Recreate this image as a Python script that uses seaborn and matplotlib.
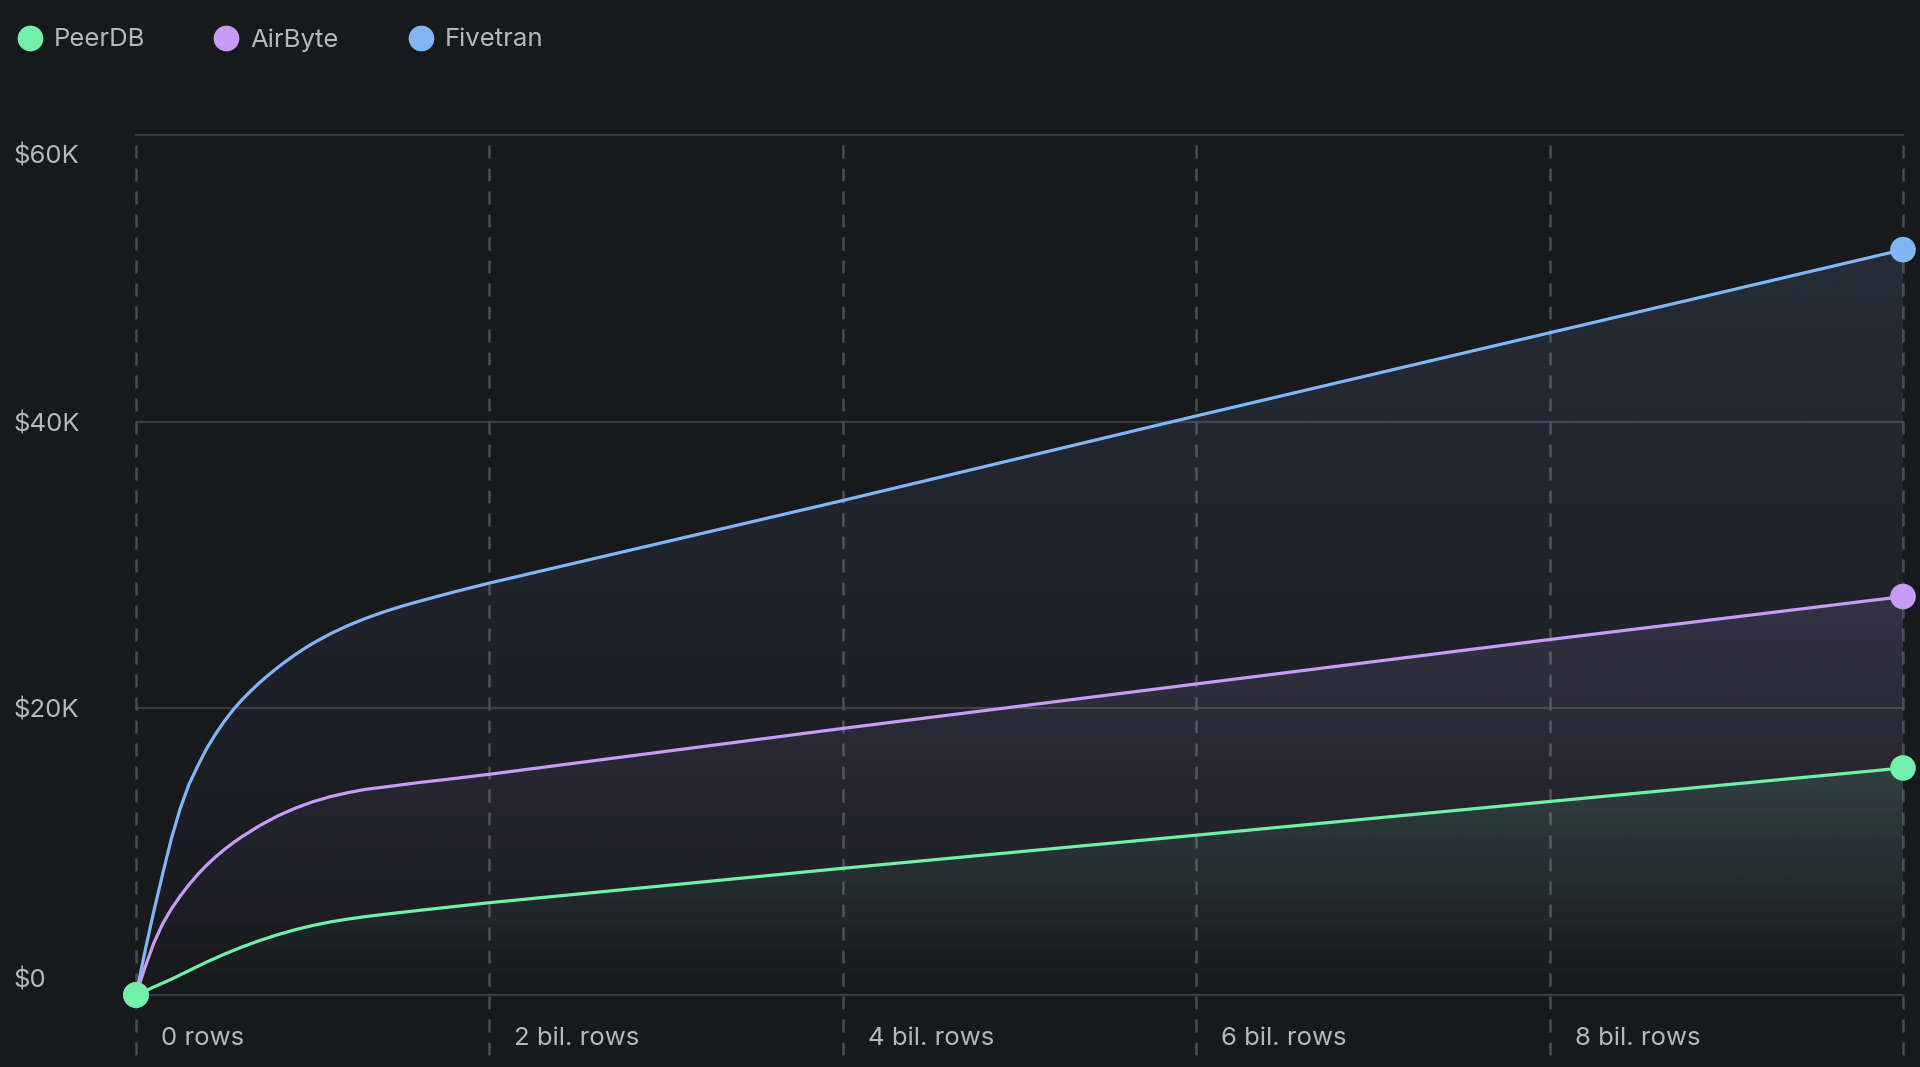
import numpy as np
import pandas as pd
import seaborn as sns
import matplotlib.pyplot as plt
import matplotlib.transforms as mtransforms
from matplotlib.colors import to_rgb
from matplotlib.lines import Line2D

# synced rows (billions) vs. monthly cost (USD)
fivetran_rows = [0, 0.05, 0.10, 0.15, 0.20, 0.25, 0.30, 0.35, 0.40, 0.45, 0.50, 0.55, 0.60,
                 0.65, 0.70, 0.75, 0.80, 0.85, 0.90, 0.95, 1.0, 1.1, 1.2, 1.3, 1.4, 1.5,
                 1.6, 1.8, 2, 4, 6, 8, 10]
fivetran_cost = [0, 3000, 5800, 8400, 10900, 13000, 14700, 16000, 17200, 18200, 19100, 19900,
                 20600, 21220, 21800, 22330, 22830, 23300, 23740, 24150, 24530, 25200, 25780,
                 26280, 26720, 27110, 27460, 28120, 28740, 34500, 40400, 46200, 52000]

airbyte_rows = [0, 0.05, 0.10, 0.15, 0.20, 0.25, 0.30, 0.35, 0.40, 0.45, 0.50, 0.55, 0.60,
                0.70, 0.80, 0.90, 1.0, 1.1, 1.2, 1.3, 1.4, 1.6, 1.8, 2, 4, 6, 8, 10]
airbyte_cost = [0, 1900, 3600, 4950, 6000, 6900, 7700, 8420, 9060, 9630, 10150, 10620, 11050,
                11820, 12480, 13030, 13480, 13840, 14120, 14350, 14500, 14820, 15100, 15400,
                18600, 21700, 24800, 27800]

peerdb_rows = [0, 0.1, 0.2, 0.3, 0.4, 0.5, 0.6, 0.7, 0.8, 0.9, 1.0, 1.1, 1.2, 1.3, 1.4,
               1.6, 1.8, 2, 4, 6, 8, 10]
peerdb_cost = [0, 550, 1100, 1700, 2300, 2850, 3350, 3800, 4200, 4550, 4850, 5100, 5300,
               5470, 5620, 5900, 6170, 6440, 8840, 11150, 13500, 15840]

x_ticks = [0, 2, 4, 6, 8]
x_labels = ['0 rows', '2 bil. rows', '4 bil. rows', '6 bil. rows', '8 bil. rows']
y_ticks = [0, 20000, 40000, 60000]
y_labels = ['$0', '$20K', '$40K', '$60K']

series = [
    ('Fivetran', fivetran_rows, fivetran_cost, '#80b6f6'),
    ('AirByte', airbyte_rows, airbyte_cost, '#c89cf6'),
    ('PeerDB', peerdb_rows, peerdb_cost, '#72f0aa'),
]
legend_order = ['PeerDB', 'AirByte', 'Fivetran']

BG = '#18191c'
TEXT = '#b7b8bc'
GRID = '#3b3c41'
DASH = '#4a4c51'
FS = 18.5

sns.set_style('dark', {'axes.facecolor': BG, 'figure.facecolor': BG})
plt.rcParams['font.family'] = ['Inter', 'DejaVu Sans']

W, H = 1920, 1067
fig = plt.figure(figsize=(W / 100, H / 100), dpi=100)
ax = fig.add_axes([136 / W, 1 - 995 / H, (1903 - 136) / W, (995 - 135) / H])
ax.set_facecolor(BG)


def gradient_fill(ax, x, y, color, alpha_top):
    poly = ax.fill_between(x, y, 0, facecolor='none', edgecolor='none')
    path = poly.get_paths()[0]
    rgba = np.zeros((256, 1, 4))
    rgba[..., :3] = to_rgb(color)
    rgba[..., 3] = np.linspace(alpha_top, 0, 256)[:, None]
    im = ax.imshow(rgba, aspect='auto', origin='upper', zorder=1,
                   extent=[min(x), max(x), 0, max(y)], interpolation='bilinear')
    im.set_clip_path(path, transform=ax.transData)


# grid: solid horizontals, dashed verticals running below the axis
for v in y_ticks:
    ax.axhline(v, color=GRID, lw=1.6, zorder=0.5, clip_on=False)
for v in x_ticks + [10]:
    ax.axvline(v, ymin=-0.07, ymax=1, color=DASH, lw=1.8, ls=(0, (5.2, 4.0)),
               zorder=0.6, clip_on=False)

for name, rows, cost, color in series:
    gradient_fill(ax, rows, cost, color, 0.13)

for name, rows, cost, color in series:
    sns.lineplot(x=rows, y=cost, color=color, linewidth=2.3, ax=ax, sort=False,
                 estimator=None, zorder=3)
for line in ax.get_lines():
    line.set_solid_joinstyle('round')
    line.set_solid_capstyle('round')

for name, rows, cost, color in series:
    sns.scatterplot(x=[rows[0], rows[-1]], y=[cost[0], cost[-1]], color=color, s=340,
                    edgecolor='none', linewidth=0, ax=ax, zorder=5, clip_on=False)

ax.set_xlim(0, 10)
ax.set_ylim(0, 60000)
for s in ax.spines.values():
    s.set_visible(False)
ax.grid(False)
ax.set_xlabel('')
ax.set_ylabel('')

ax.set_xticks(x_ticks, labels=x_labels)
ax.set_yticks(y_ticks, labels=y_labels)
ax.tick_params(axis='both', length=0, labelcolor=TEXT, labelsize=FS)
ax.tick_params(axis='x', pad=23)
ax.tick_params(axis='y', pad=88.2)

dx = mtransforms.ScaledTranslation(25 / 100, 0, fig.dpi_scale_trans)
for lab in ax.get_xticklabels():
    lab.set_horizontalalignment('left')
    lab.set_transform(lab.get_transform() + dx)

y_shift = {'$0': 17, '$60K': -19}
for lab in ax.get_yticklabels():
    lab.set_horizontalalignment('left')
    off = y_shift.get(lab.get_text(), 0)
    if off:
        lab.set_transform(lab.get_transform() +
                          mtransforms.ScaledTranslation(0, off / 100, fig.dpi_scale_trans))

# legend
colors = {name: color for name, _, _, color in series}
legend_x = [30, 226, 421]
for xpos, name in zip(legend_x, legend_order):
    fig.add_artist(Line2D([xpos / W], [1 - 38 / H], marker='o', markersize=18.5,
                          color=colors[name], markeredgewidth=0, linestyle='none',
                          transform=fig.transFigure))
    fig.text((xpos + 24) / W, 1 - 40 / H, name, color=TEXT, fontsize=FS,
             va='center', ha='left')

fig.savefig('out.png', dpi=100, facecolor=BG)
